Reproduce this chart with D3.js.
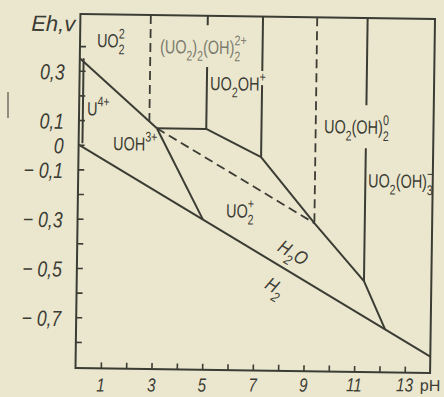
<!DOCTYPE html>
<html>
<head>
<meta charset="utf-8">
<script src="https://cdn.jsdelivr.net/npm/d3@7"></script>
<style>
  body { margin: 0; background: #ebe7cf; }
  svg { display: block; }
</style>
</head>
<body>
<script>
// boundaries of the U - H2O Eh/pH diagram, points are [pH, Eh]
const waterLine = [[0, 0], [14, -0.84]];
const u4Top = [[0, 0.351], [3.08, 0.071]];
const uoh3Top = [[3.08, 0.071], [5.03, 0.071]];
const uo2ohBottom = [[5.03, 0.071], [7.21, -0.040]];
const oxideEdge = [[7.21, -0.040], [9.35, -0.305], [11.34, -0.537], [12.2, -0.732]];
const uoh3Right = [[3.08, 0.071], [4.95, -0.297]];
const u4Left = [[0.15, 0.351], [0.15, 0.006]];
const verticals = [
  [[5.03, 0.53], [5.03, 0.492]], [[5.03, 0.322], [5.03, 0.071]],
  [[7.21, 0.53], [7.21, 0.309]], [[7.21, 0.252], [7.21, -0.040]],
  [[11.34, 0.53], [11.34, 0.176]], [[11.34, 0.002], [11.34, -0.537]]
];
const dashedLines = [
  [[2.78, 0.53], [2.78, 0.098]],
  [[9.35, 0.53], [9.35, -0.305]],
  [[3.08, 0.071], [9.35, -0.305]]
];

const xTicks = d3.range(1, 14);
const xLabels = [1, 3, 5, 7, 9, 11, 13];
const yTicks = d3.range(-8, 5).map(d => d / 10);
const yLabels = [0.3, 0.1, 0, -0.1, -0.3, -0.5, -0.7];

// species names: [text, "sub" | "sup"]
const species = [
  { pH: 0.67, Eh: 0.397, parts: [["UO"], ["2", "sub"], ["2", "sup"]] },
  { pH: 3.16, Eh: 0.376, light: true, parts: [["(UO"], ["2", "sub"], [")"], ["2", "sub"], ["(OH)"], ["2", "sub"], ["2+", "sup"]] },
  { pH: 5.16, Eh: 0.229, parts: [["UO"], ["2", "sub"], ["OH"], ["+", "sup"]] },
  { pH: 0.31, Eh: 0.12, parts: [["U"], ["4+", "sup"]] },
  { pH: 1.36, Eh: -0.02, parts: [["UOH"], ["3+", "sup"]] },
  { pH: 5.86, Eh: -0.286, parts: [["UO"], ["2", "sub"], ["+", "sup"]] },
  { pH: 9.68, Eh: 0.061, parts: [["UO"], ["2", "sub"], ["(OH)"], ["2", "sub"], ["0", "sup"]] },
  { pH: 11.45, Eh: -0.156, parts: [["UO"], ["2", "sub"], ["(OH)"], ["3", "sub"], ["−", "sup"]] }
];
const waterLabels = [
  { pH: 8.52, Eh: -0.428, parts: [["H"], ["2", "sub"], ["O"]] },
  { pH: 7.83, Eh: -0.567, parts: [["H"], ["2", "sub"]] }
];

const width = 444, height = 397;
const ink = "#3b3c34";
const font = "'Liberation Sans', Arial, sans-serif";

const x = d3.scaleLinear().domain([0, 14]).range([78, 432.6]);
const y = d3.scaleLinear().domain([-0.906, 0.53]).range([370.5, 16.5]);
const line = d3.line().x(d => x(d[0])).y(d => y(d[1]));

const svg = d3.select("body").append("svg")
  .attr("width", width)
  .attr("height", height)
  .style("font-family", font);

svg.append("rect").attr("width", width).attr("height", height).attr("fill", "#ebe7cf");

// stray pencil mark left of the axis
svg.append("line")
  .attr("x1", 8).attr("x2", 8).attr("y1", 92).attr("y2", 118)
  .attr("stroke", "#77776a").attr("stroke-width", 1.6);

// the scan is slightly turned
const g = svg.append("g").attr("transform", "rotate(0.8,255,190)");

// frame
g.append("rect")
  .attr("x", x(0)).attr("y", y(0.53))
  .attr("width", x(14) - x(0)).attr("height", y(-0.906) - y(0.53))
  .attr("fill", "none").attr("stroke", ink).attr("stroke-width", 2);

// ticks
g.append("g")
  .attr("transform", `translate(0,${y(-0.906)})`)
  .call(d3.axisBottom(x).tickValues(xTicks).tickSize(-6).tickFormat(""))
  .call(a => a.select(".domain").remove())
  .selectAll("line").attr("stroke", ink).attr("stroke-width", 1.6);

g.append("g")
  .attr("transform", `translate(${x(0)},0)`)
  .call(d3.axisLeft(y).tickValues(yTicks).tickSize(-6).tickFormat(""))
  .call(a => a.select(".domain").remove())
  .selectAll("line").attr("stroke", ink).attr("stroke-width", 1.6);

// tick labels
const fmt = d => d === 0 ? "0" : (d < 0 ? "−  " : "") + Math.abs(d).toFixed(1).replace(".", ",");

g.append("g")
  .selectAll("text")
  .data(xLabels)
  .join("text")
  .attr("transform", d => `translate(${x(d)},${y(-0.906) + 21 - (x(d) - 255) * 0.014}) scale(0.8,1)`)
  .attr("text-anchor", "middle")
  .attr("font-style", "italic")
  .attr("font-size", 19)
  .attr("fill", ink)
  .text(d => d);

g.append("text")
  .attr("x", x(14) - 10).attr("y", y(-0.906) + 18)
  .attr("font-size", 16).attr("fill", ink)
  .text("pH");

g.append("g")
  .selectAll("text")
  .data(yLabels)
  .join("text")
  .attr("transform", d => `translate(${x(0) - 15},${y(d) + 9}) scale(0.8,1)`)
  .attr("text-anchor", "end")
  .attr("font-style", "italic")
  .attr("font-size", 22)
  .attr("fill", ink)
  .text(fmt);

g.append("text")
  .attr("x", x(0) - 5).attr("y", 34)
  .attr("text-anchor", "end")
  .attr("font-style", "italic")
  .attr("font-size", 22)
  .attr("fill", ink)
  .text("Eh,v");

// boundaries
const solid = [waterLine, u4Top, uoh3Top, uo2ohBottom, oxideEdge, uoh3Right, u4Left, ...verticals];
g.append("g")
  .selectAll("path")
  .data(solid)
  .join("path")
  .attr("d", line)
  .attr("fill", "none")
  .attr("stroke", ink)
  .attr("stroke-width", 2)
  .attr("stroke-linejoin", "round");

g.append("g")
  .selectAll("path")
  .data(dashedLines)
  .join("path")
  .attr("d", line)
  .attr("fill", "none")
  .attr("stroke", ink)
  .attr("stroke-width", 1.8)
  .attr("stroke-dasharray", "9,5");

// formula with stacked sub/superscripts
function formula(sel, parts, fs) {
  let cx = 0, last = null;
  parts.forEach(([t, kind]) => {
    let start = cx;
    const stack = kind && last && last.kind !== kind;
    if (stack) start = last.start;
    const el = sel.append("text")
      .attr("x", start)
      .attr("y", kind === "sub" ? 7 : kind === "sup" ? -9 : 0)
      .attr("font-size", kind ? fs * 0.74 : fs)
      .text(t);
    const end = start + el.node().getComputedTextLength();
    if (kind) {
      cx = stack ? Math.max(last.end, end) : end;
      last = stack ? null : { kind, start, end };
    } else {
      cx = end;
      last = null;
    }
  });
}

species.forEach(s => {
  const lab = g.append("g")
    .attr("transform", `translate(${x(s.pH)},${y(s.Eh)}) scale(0.76,1)`)
    .attr("fill", s.light ? "#7b7b6e" : ink);
  formula(lab, s.parts, 19);
});

const angle = Math.atan2(y(waterLine[1][1]) - y(0), x(14) - x(0)) * 180 / Math.PI;
waterLabels.forEach(s => {
  const lab = g.append("g")
    .attr("transform", `translate(${x(s.pH)},${y(s.Eh)}) rotate(${angle}) scale(0.85,1)`)
    .attr("fill", ink)
    .attr("font-style", "italic");
  formula(lab, s.parts, 19);
  const b = lab.node().getBBox();
  lab.selectAll("text").attr("transform", `translate(${-b.width / 2},${6})`);
});
</script>
</body>
</html>
